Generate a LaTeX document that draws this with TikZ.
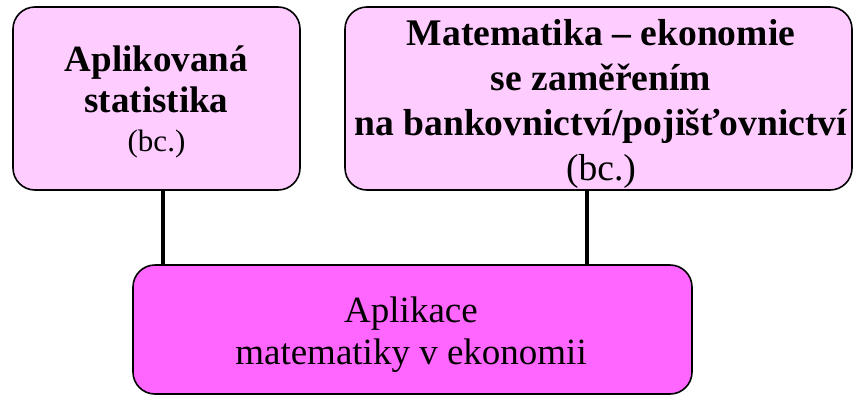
\documentclass[tikz,border=0pt]{standalone}
\usepackage{fontspec}
\setmainfont{Liberation Serif}
\definecolor{lightpink}{HTML}{FFCCFF}
\definecolor{magentabox}{HTML}{FF66FF}
\begin{document}
\begin{tikzpicture}[x=1pt,y=-1pt,
  box/.style={draw=black, line width=1.6pt, rounded corners=22pt, inner sep=0pt},
  txt/.style={inner sep=0pt, align=center},
  conn/.style={draw=black, line width=4.2pt}]
\useasboundingbox (0,0) rectangle (859,397);
\coordinate (c1) at (163,0);
\coordinate (c2) at (587,0);
\node[box, fill=lightpink, minimum width=287pt, minimum height=183pt] (stat) at (156.5,98.5) {};
\node[box, fill=lightpink, minimum width=507pt, minimum height=183pt] (mat) at (598.5,98.5) {};
\node[box, fill=magentabox, minimum width=559pt, minimum height=129pt] (app) at (412.5,329.5) {};
\node[txt, font=\fontsize{37}{41}\selectfont] (stattext) at (156.5,102)
  {\textbf{Aplikovaná}\\\textbf{statistika}\\[-2pt]{\fontsize{31}{36}\selectfont (bc.)}};
\node[txt, font=\fontsize{37.6}{45}\selectfont] (mattext) at (601,104)
  {\textbf{Matematika – ekonomie}\\\textbf{se zaměřením}\\\textbf{na bankovnictví/pojišťovnictví}\\(bc.)};
\node[txt, font=\fontsize{37}{42}\selectfont] (apptext) at (411,334.5)
  {Aplikace\\matematiky v ekonomii};
\draw[conn] (stat.south -| c1) -- (app.north -| c1);
\draw[conn] (mat.south -| c2) -- (app.north -| c2);
\end{tikzpicture}
\end{document}
